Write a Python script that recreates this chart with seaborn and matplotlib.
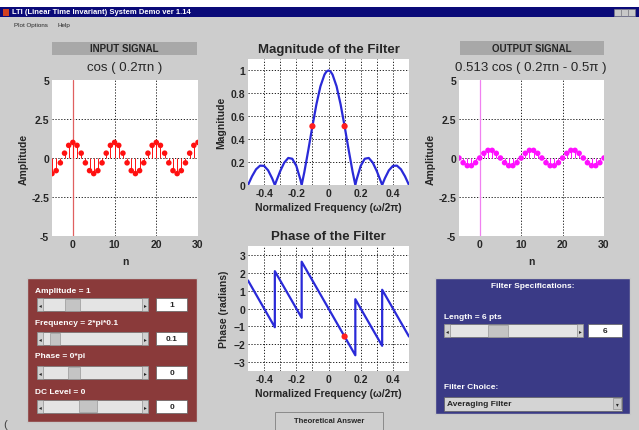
import numpy as np
import matplotlib
matplotlib.use('Agg')
import matplotlib.pyplot as plt
from matplotlib.patches import Rectangle
import seaborn as sns

sns.set_style('white')
plt.rcParams['font.family'] = ['Liberation Sans', 'DejaVu Sans']
plt.rcParams['font.weight'] = 'bold'

# data
n = list(range(-5, 31))
x_in = [-1.0, -0.81, -0.31, 0.31, 0.81, 1.0, 0.81, 0.31, -0.31, -0.81,
        -1.0, -0.81, -0.31, 0.31, 0.81, 1.0, 0.81, 0.31, -0.31, -0.81,
        -1.0, -0.81, -0.31, 0.31, 0.81, 1.0, 0.81, 0.31, -0.31, -0.81,
        -1.0, -0.81, -0.31, 0.31, 0.81, 1.0]
y_out = [0.0, -0.30, -0.49, -0.49, -0.30, 0.0, 0.30, 0.49, 0.49, 0.30,
         0.0, -0.30, -0.49, -0.49, -0.30, 0.0, 0.30, 0.49, 0.49, 0.30,
         0.0, -0.30, -0.49, -0.49, -0.30, 0.0, 0.30, 0.49, 0.49, 0.30,
         0.0, -0.30, -0.49, -0.49, -0.30, 0.0]

mag_f = [-0.5, -0.475, -0.45, -0.425, -0.4, -0.375, -0.35, -0.3333, -0.325, -0.3,
         -0.275, -0.25, -0.225, -0.2, -0.175, -0.1667, -0.15, -0.125, -0.1, -0.075,
         -0.05, -0.025, -0.0125, 0.0, 0.0125, 0.025, 0.05, 0.075, 0.1, 0.125,
         0.15, 0.1667, 0.175, 0.2, 0.225, 0.25, 0.275, 0.3, 0.325, 0.3333,
         0.35, 0.375, 0.4, 0.425, 0.45, 0.475, 0.5]
mag = [0.0, 0.076, 0.137, 0.169, 0.167, 0.128, 0.058, 0.0, 0.031, 0.121,
       0.195, 0.236, 0.229, 0.167, 0.050, 0.0, 0.113, 0.308, 0.513, 0.705,
       0.862, 0.964, 0.991, 1.0, 0.991, 0.964, 0.862, 0.705, 0.513, 0.308,
       0.113, 0.0, 0.050, 0.167, 0.229, 0.236, 0.195, 0.121, 0.031, 0.0,
       0.058, 0.128, 0.167, 0.169, 0.137, 0.076, 0.0]

ph_f = [-0.5, -0.3333, -0.3333, -0.1667, -0.1667, 0.1667, 0.1667, 0.3333, 0.3333, 0.5]
ph = [1.57, -1.05, 2.09, -0.52, 2.62, -2.62, 0.52, -2.09, 1.05, -1.57]

sel_f = [-0.1, 0.1]
sel_mag = [0.513, 0.513]
sel_ph_f = [0.1]
sel_ph = [-1.57]

W, H = 639, 431
BG = '#cdcdcd'
fig = plt.figure(figsize=(W / 100, H / 100), dpi=100)
fig.patch.set_facecolor(BG)


def fbox(x0, y0, x1, y1):
    return [x0 / W, 1 - y1 / H, (x1 - x0) / W, (y1 - y0) / H]


# background layer in pixel coordinates
bg = fig.add_axes([0, 0, 1, 1])
bg.set_xlim(0, W)
bg.set_ylim(H, 0)
bg.axis('off')


def rect(x0, y0, x1, y1, fc, ec='none', lw=0.8):
    bg.add_patch(Rectangle((x0, y0), x1 - x0, y1 - y0, facecolor=fc, edgecolor=ec, lw=lw))


# title bar + menu
rect(0, 0, W, 8, 'white')
rect(0, 8, W, 18, '#0a0a78')
rect(3, 9.5, 9, 16.5, '#d04020')
bg.text(12, 13, 'LTI (Linear Time Invariant) System Demo ver 1.14', color='white',
        fontsize=5.5, va='center')
for bx in (614, 621, 628):
    rect(bx, 9.5, bx + 6.5, 16.5, '#c8c8c8', ec='#808080', lw=0.4)
bg.text(14, 26, 'Plot Options', fontsize=4.5, weight='normal', va='center')
bg.text(57, 26, 'Help', fontsize=4.5, weight='normal', va='center')

# signal header boxes
rect(52, 43, 197, 56, '#a8a8a8')
bg.text(124.5, 49.5, 'INPUT SIGNAL', fontsize=7, ha='center', va='center')
bg.text(124.5, 68, 'cos ( 0.2πn )', fontsize=9.5, weight='normal', ha='center', va='center')
rect(460, 42, 604, 56, '#a8a8a8')
bg.text(532, 49, 'OUTPUT SIGNAL', fontsize=7, ha='center', va='center')
bg.text(531, 68, '0.513 cos ( 0.2πn - 0.5π )', fontsize=9.5, weight='normal',
        ha='center', va='center')


def slider(x0, y0, x1, y1, t0, t1):
    rect(x0, y0, x1, y1, '#e4e4e4', ec='#707070', lw=0.5)
    rect(x0, y0, x0 + 6, y1, '#d0d0d0', ec='#808080', lw=0.4)
    rect(x1 - 6, y0, x1, y1, '#d0d0d0', ec='#808080', lw=0.4)
    bg.text(x0 + 3, (y0 + y1) / 2, '◂', fontsize=4, ha='center', va='center')
    bg.text(x1 - 3, (y0 + y1) / 2, '▸', fontsize=4, ha='center', va='center')
    rect(t0, y0 + 0.5, t1, y1 - 0.5, '#c4c4c4', ec='#8a8a8a', lw=0.4)


def editbox(x0, y0, x1, y1, s):
    rect(x0, y0, x1, y1, 'white', ec='#606060', lw=0.5)
    bg.text((x0 + x1) / 2, (y0 + y1) / 2, s, fontsize=6, ha='center', va='center')


# input controls panel
rect(27, 279, 197, 423, '#8a3a3a', ec='#c8c8c8', lw=1.0)
inputs = [('Amplitude = 1', 292, 299, 65, 80, '1'),
          ('Frequency = 2*pi*0.1', 324, 333, 50, 60, '0.1'),
          ('Phase = 0*pi', 357, 367, 68, 80, '0'),
          ('DC Level = 0', 393, 401, 79, 97, '0')]
for label, ty, sy, t0, t1, val in inputs:
    bg.text(35, ty, label, color='white', fontsize=6, va='center')
    slider(37, sy, 148, sy + 13, t0, t1)
    editbox(156, sy, 187, sy + 13, val)
bg.text(3, 425, '(', fontsize=8, weight='normal', va='center', color='#404040')

# filter panel
rect(435, 279, 630, 415, '#3a3a86', ec='#c8c8c8', lw=1.0)
bg.text(533, 287, 'Filter Specifications:', color='white', fontsize=6, ha='center', va='center')
bg.text(444, 318, 'Length = 6 pts', color='white', fontsize=6, va='center')
slider(444, 325, 583, 338, 488, 508)
editbox(588, 325, 622, 338, '6')
bg.text(444, 388, 'Filter Choice:', color='white', fontsize=6, va='center')
rect(444, 398, 622, 412, '#d4d4d4', ec='#606060', lw=0.5)
bg.text(447, 405, 'Averaging Filter', fontsize=6, va='center')
rect(613, 399.5, 621, 410.5, '#c8c8c8', ec='#808080', lw=0.4)
bg.text(617, 405, '▾', fontsize=4, ha='center', va='center')

# theoretical answer button
rect(275, 413, 383, 440, '#cfcfcf', ec='#808080', lw=0.6)
bg.text(329, 422, 'Theoretical Answer', fontsize=5.5, ha='center', va='center')

TICK = 7.5
LAB = 7.5
grid_kw = dict(color='black', ls=(0, (1.5, 2)), lw=0.6)


def style(ax):
    ax.set_facecolor('white')
    ax.tick_params(labelsize=TICK, length=0, pad=2)
    for sp in ax.spines.values():
        sp.set_visible(False)
    for lab in ax.get_xticklabels() + ax.get_yticklabels():
        lab.set_fontweight('bold')


def signal_axes(box, vals, color, linecolor):
    ax = fig.add_axes(fbox(*box))
    ax.axvline(0, color=linecolor, lw=0.9, zorder=1)
    ax.vlines(n, 0, vals, color=color, lw=0.7, zorder=2)
    sns.scatterplot(x=n, y=vals, color=color, s=16, edgecolor='none', ax=ax, zorder=3)
    ax.set_xlim(-5, 30)
    ax.set_ylim(-5, 5)
    ax.set_xticks([0, 10, 20, 30])
    ax.set_yticks([-5, -2.5, 0, 2.5, 5])
    ax.set_yticklabels(['-5', '-2.5', '0', '2.5', '5'])
    for v in (10, 20):
        ax.axvline(v, zorder=0, **grid_kw)
    for v in (-2.5, 0, 2.5):
        ax.axhline(v, zorder=0, **grid_kw)
    ax.set_xlabel('n', fontsize=LAB, weight='bold', labelpad=5)
    ax.set_ylabel('Amplitude', fontsize=LAB, weight='bold', labelpad=2)
    style(ax)
    return ax


signal_axes((52, 81, 198, 237), x_in, '#ff1010', '#e06060')
signal_axes((459, 81, 604, 237), y_out, '#ff10ff', '#f080f0')

# magnitude
ax = fig.add_axes(fbox(248, 60, 409, 186))
sns.lineplot(x=mag_f, y=mag, color='#2a2ad8', lw=1.6, sort=False, estimator=None, ax=ax)
sns.scatterplot(x=sel_f, y=sel_mag, color='#ff2020', s=20, edgecolor='none', ax=ax, zorder=5)
ax.set_xlim(-0.5, 0.5)
ax.set_ylim(0, 1.1)
ax.set_xticks([-0.4, -0.2, 0, 0.2, 0.4])
ax.set_xticklabels(['-0.4', '-0.2', '0', '0.2', '0.4'])
ax.set_yticks([0, 0.2, 0.4, 0.6, 0.8, 1])
ax.set_yticklabels(['0', '0.2', '0.4', '0.6', '0.8', '1'])
for v in np.arange(-0.4, 0.45, 0.1):
    ax.axvline(v, zorder=0, **grid_kw)
for v in (0.2, 0.4, 0.6, 0.8, 1.0):
    ax.axhline(v, zorder=0, **grid_kw)
ax.set_title('Magnitude of the Filter', fontsize=9.5, weight='bold', pad=5)
ax.set_xlabel('Normalized Frequency (ω/2π)', fontsize=LAB, weight='bold', labelpad=3)
ax.set_ylabel('Magnitude', fontsize=LAB, weight='bold', labelpad=3)
style(ax)

# phase
ax = fig.add_axes(fbox(248, 247, 409, 372))
sns.lineplot(x=ph_f, y=ph, color='#2a2ad8', lw=1.6, sort=False, estimator=None, ax=ax)
sns.scatterplot(x=sel_ph_f, y=sel_ph, color='#ff2020', s=20, edgecolor='none', ax=ax, zorder=5)
ax.set_xlim(-0.5, 0.5)
ax.set_ylim(-3.5, 3.5)
ax.set_xticks([-0.4, -0.2, 0, 0.2, 0.4])
ax.set_xticklabels(['-0.4', '-0.2', '0', '0.2', '0.4'])
ax.set_yticks([-3, -2, -1, 0, 1, 2, 3])
for v in np.arange(-0.4, 0.45, 0.1):
    ax.axvline(v, zorder=0, **grid_kw)
for v in (-3, -2, -1, 0, 1, 2, 3):
    ax.axhline(v, zorder=0, **grid_kw)
ax.set_title('Phase of the Filter', fontsize=9.5, weight='bold', pad=5)
ax.set_xlabel('Normalized Frequency (ω/2π)', fontsize=LAB, weight='bold', labelpad=3)
ax.set_ylabel('Phase (radians)', fontsize=LAB, weight='bold', labelpad=3)
style(ax)

fig.savefig('out.png', dpi=100, facecolor=fig.get_facecolor())
